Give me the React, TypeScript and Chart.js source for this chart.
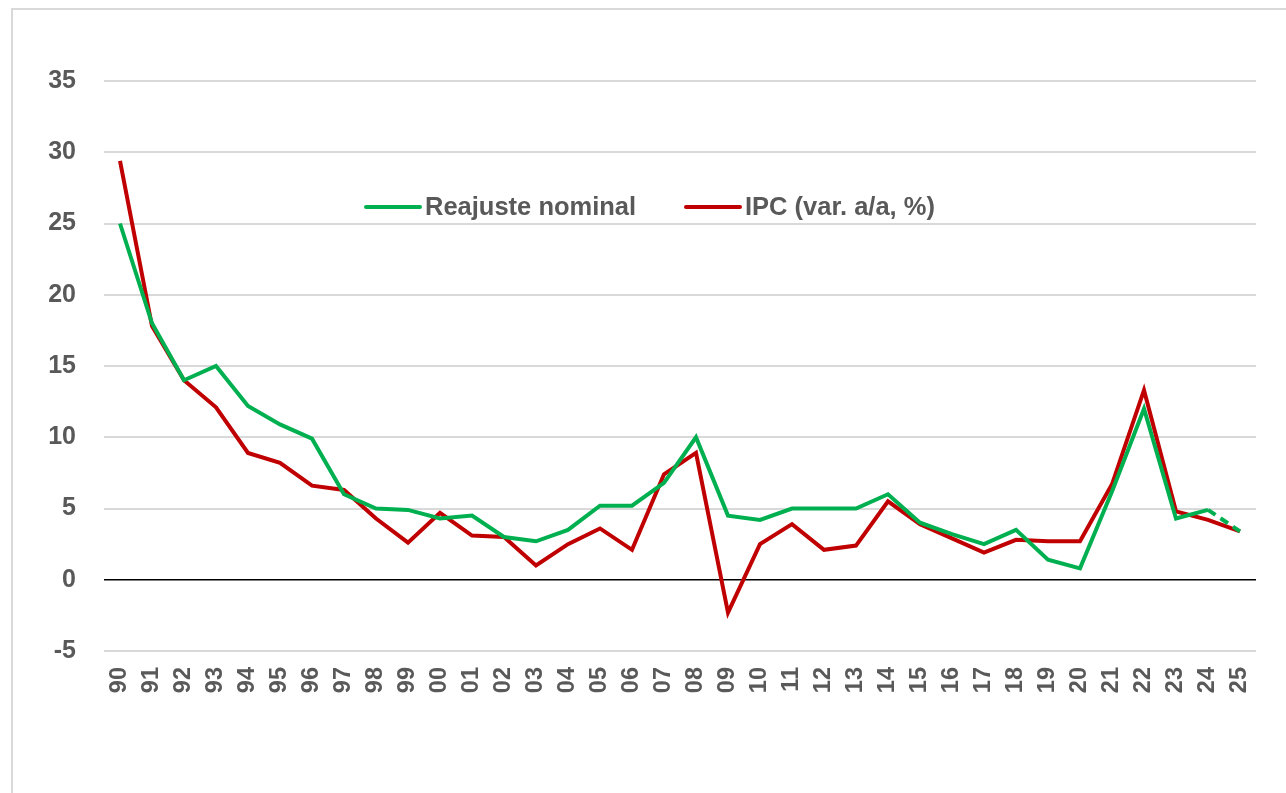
import React, { useEffect, useRef } from "react";
import { Chart, registerables } from "chart.js";

Chart.register(...registerables);

const years = ["90","91","92","93","94","95","96","97","98","99","00","01","02","03","04","05","06","07","08","09","10","11","12","13","14","15","16","17","18","19","20","21","22","23","24","25"];

const reajusteNominal = [25.0,18.0,14.0,15.0,12.2,10.9,9.9,6.0,5.0,4.9,4.3,4.5,3.0,2.7,3.5,5.2,5.2,6.8,10.0,4.5,4.2,5.0,5.0,5.0,6.0,4.0,3.2,2.5,3.5,1.4,0.8,6.2,12.0,4.3,4.9,3.4];

const ipc = [29.4,17.8,14.0,12.1,8.9,8.2,6.6,6.3,4.3,2.6,4.7,3.1,3.0,1.0,2.5,3.6,2.1,7.4,8.9,-2.3,2.5,3.9,2.1,2.4,5.5,3.9,2.9,1.9,2.8,2.7,2.7,6.7,13.3,4.8,4.2,3.4];

const seriesNames = ["Reajuste nominal", "IPC (var. a/a, %)"];
const seriesColors = ["#00b050", "#c00000"];

const FONT = "'Liberation Sans', Arial, sans-serif";
const TEXT = "#595959";

const legendPlugin = {
  id: "insideLegend",
  afterDraw(chart: any) {
    const { ctx, chartArea } = chart;
    const y = chartArea.top + 126;
    const items = [
      { x: chartArea.left + 262, name: seriesNames[0], color: seriesColors[0] },
      { x: chartArea.left + 582, name: seriesNames[1], color: seriesColors[1] },
    ];
    ctx.save();
    items.forEach((it) => {
      ctx.strokeStyle = it.color;
      ctx.lineWidth = 4;
      ctx.lineCap = "round";
      ctx.beginPath();
      ctx.moveTo(it.x, y);
      ctx.lineTo(it.x + 54, y);
      ctx.stroke();
      ctx.fillStyle = TEXT;
      ctx.font = `bold 25.5px ${FONT}`;
      ctx.textBaseline = "middle";
      ctx.textAlign = "left";
      ctx.fillText(it.name, it.x + 59, y + 1);
    });
    ctx.restore();
  },
};

export default function App() {
  const canvasRef = useRef<HTMLCanvasElement | null>(null);

  useEffect(() => {
    const canvas = canvasRef.current;
    if (!canvas) return;
    const chart = new Chart(canvas, {
      type: "line",
      data: {
        labels: years,
        datasets: [
          {
            label: seriesNames[0],
            data: reajusteNominal,
            borderColor: seriesColors[0],
            backgroundColor: seriesColors[0],
            borderWidth: 4,
            pointRadius: 0,
            tension: 0,
            segment: {
              borderDash: (c: any) => (c.p1DataIndex === years.length - 1 ? [9, 6] : undefined),
            },
          },
          {
            label: seriesNames[1],
            data: ipc,
            borderColor: seriesColors[1],
            backgroundColor: seriesColors[1],
            borderWidth: 4,
            pointRadius: 0,
            tension: 0,
          },
        ],
      },
      options: {
        animation: false,
        responsive: false,
        maintainAspectRatio: false,
        layout: { padding: { top: 81, right: 30, left: 0, bottom: 0 } },
        plugins: {
          legend: { display: false },
          tooltip: { enabled: false },
        },
        scales: {
          x: {
            offset: true,
            grid: { display: false, drawTicks: false },
            border: { display: false },
            ticks: {
              color: TEXT,
              font: { family: FONT, size: 23.5, weight: "bold" },
              minRotation: 90,
              maxRotation: 90,
              padding: 16,
              autoSkip: false,
            },
            afterFit: (s: any) => {
              s.height = 142;
            },
          },
          y: {
            min: -5,
            max: 35,
            grid: {
              drawTicks: false,
              color: (c: any) => (c.tick && c.tick.value === 0 ? "#000000" : "#d9d9d9"),
              lineWidth: (c: any) => (c.tick && c.tick.value === 0 ? 1.5 : 2),
            },
            border: { display: false },
            ticks: {
              stepSize: 5,
              color: TEXT,
              font: { family: FONT, size: 25, weight: "bold" },
              padding: 28,
            },
            afterFit: (s: any) => {
              s.width = 104;
            },
          },
        },
      },
      plugins: [legendPlugin],
    } as any);
    return () => chart.destroy();
  }, []);

  return (
    <div style={{ position: "fixed", left: 0, top: 0, width: 1286, height: 793, background: "#fff" }}>
      <div
        style={{
          position: "absolute",
          left: 11,
          top: 8,
          width: 1300,
          height: 820,
          border: "2px solid #d9d9d9",
          boxSizing: "border-box",
        }}
      />
      <canvas ref={canvasRef} width={1286} height={793} style={{ position: "absolute", left: 0, top: 0 }} />
    </div>
  );
}
